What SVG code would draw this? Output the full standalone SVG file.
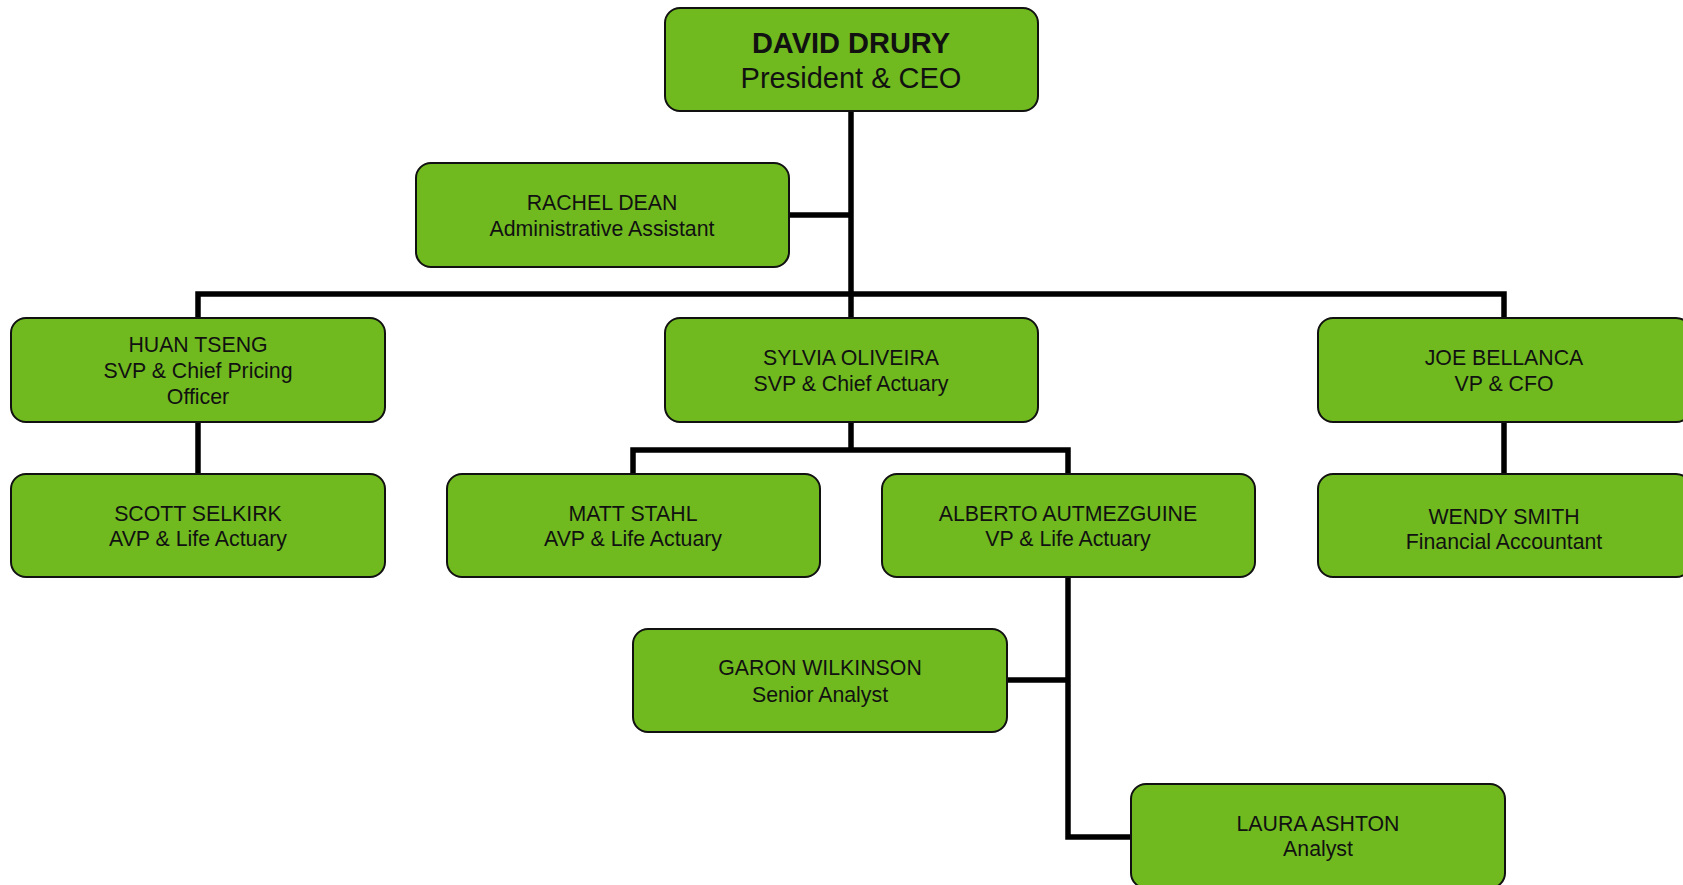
<svg xmlns="http://www.w3.org/2000/svg" width="1683" height="885" viewBox="0 0 1683 885">
<style>
.box{fill:#70BA1F;stroke:#111;stroke-width:2}
.t{font-family:"Liberation Sans",Arial,sans-serif;font-size:21.3px;fill:#111;text-anchor:middle}
.big{font-family:"Liberation Sans",Arial,sans-serif;font-size:29px;fill:#111;text-anchor:middle}
.c{fill:none;stroke:#000;stroke-width:5.5;stroke-linejoin:miter;stroke-linecap:butt}
</style>
<rect width="1683" height="885" fill="#fff"/>
<g id="connectors">
<path class="c" d="M851 111V318"/>
<path class="c" d="M789 215H851"/>
<path class="c" d="M198 318V294H1504V318"/>
<path class="c" d="M198 422V474"/>
<path class="c" d="M1504 422V474"/>
<path class="c" d="M851 422V450"/>
<path class="c" d="M633 474V450H1068V474"/>
<path class="c" d="M1068 577V837H1131"/>
<path class="c" d="M1007 680H1068"/>
</g>
<g id="ceo"><rect class="box" x="665" y="8" width="373" height="103" rx="15"/>
<text class="big" x="851" y="53" font-weight="bold">DAVID DRURY</text>
<text class="big" x="851" y="88">President &amp; CEO</text></g>
<g id="rachel"><rect class="box" x="416" y="163" width="373" height="104" rx="15"/>
<text class="t" x="602" y="210">RACHEL DEAN</text>
<text class="t" x="602" y="236">Administrative Assistant</text></g>
<g id="huan"><rect class="box" x="11" y="318" width="374" height="104" rx="15"/>
<text class="t" x="198" y="352">HUAN TSENG</text>
<text class="t" x="198" y="378">SVP &amp; Chief Pricing</text>
<text class="t" x="198" y="404">Officer</text></g>
<g id="sylvia"><rect class="box" x="665" y="318" width="373" height="104" rx="15"/>
<text class="t" x="851" y="365">SYLVIA OLIVEIRA</text>
<text class="t" x="851" y="391">SVP &amp; Chief Actuary</text></g>
<g id="joe"><rect class="box" x="1318" y="318" width="373" height="104" rx="15"/>
<text class="t" x="1504" y="365">JOE BELLANCA</text>
<text class="t" x="1504" y="391">VP &amp; CFO</text></g>
<g id="scott"><rect class="box" x="11" y="474" width="374" height="103" rx="15"/>
<text class="t" x="198" y="521">SCOTT SELKIRK</text>
<text class="t" x="198" y="546">AVP &amp; Life Actuary</text></g>
<g id="matt"><rect class="box" x="447" y="474" width="373" height="103" rx="15"/>
<text class="t" x="633" y="521">MATT STAHL</text>
<text class="t" x="633" y="546">AVP &amp; Life Actuary</text></g>
<g id="alberto"><rect class="box" x="882" y="474" width="373" height="103" rx="15"/>
<text class="t" x="1068" y="521">ALBERTO AUTMEZGUINE</text>
<text class="t" x="1068" y="546">VP &amp; Life Actuary</text></g>
<g id="wendy"><rect class="box" x="1318" y="474" width="373" height="103" rx="15"/>
<text class="t" x="1504" y="524">WENDY SMITH</text>
<text class="t" x="1504" y="549">Financial Accountant</text></g>
<g id="garon"><rect class="box" x="633" y="629" width="374" height="103" rx="15"/>
<text class="t" x="820" y="675">GARON WILKINSON</text>
<text class="t" x="820" y="702">Senior Analyst</text></g>
<g id="laura"><rect class="box" x="1131" y="784" width="374" height="104" rx="15"/>
<text class="t" x="1318" y="831">LAURA ASHTON</text>
<text class="t" x="1318" y="856">Analyst</text></g>
</svg>
